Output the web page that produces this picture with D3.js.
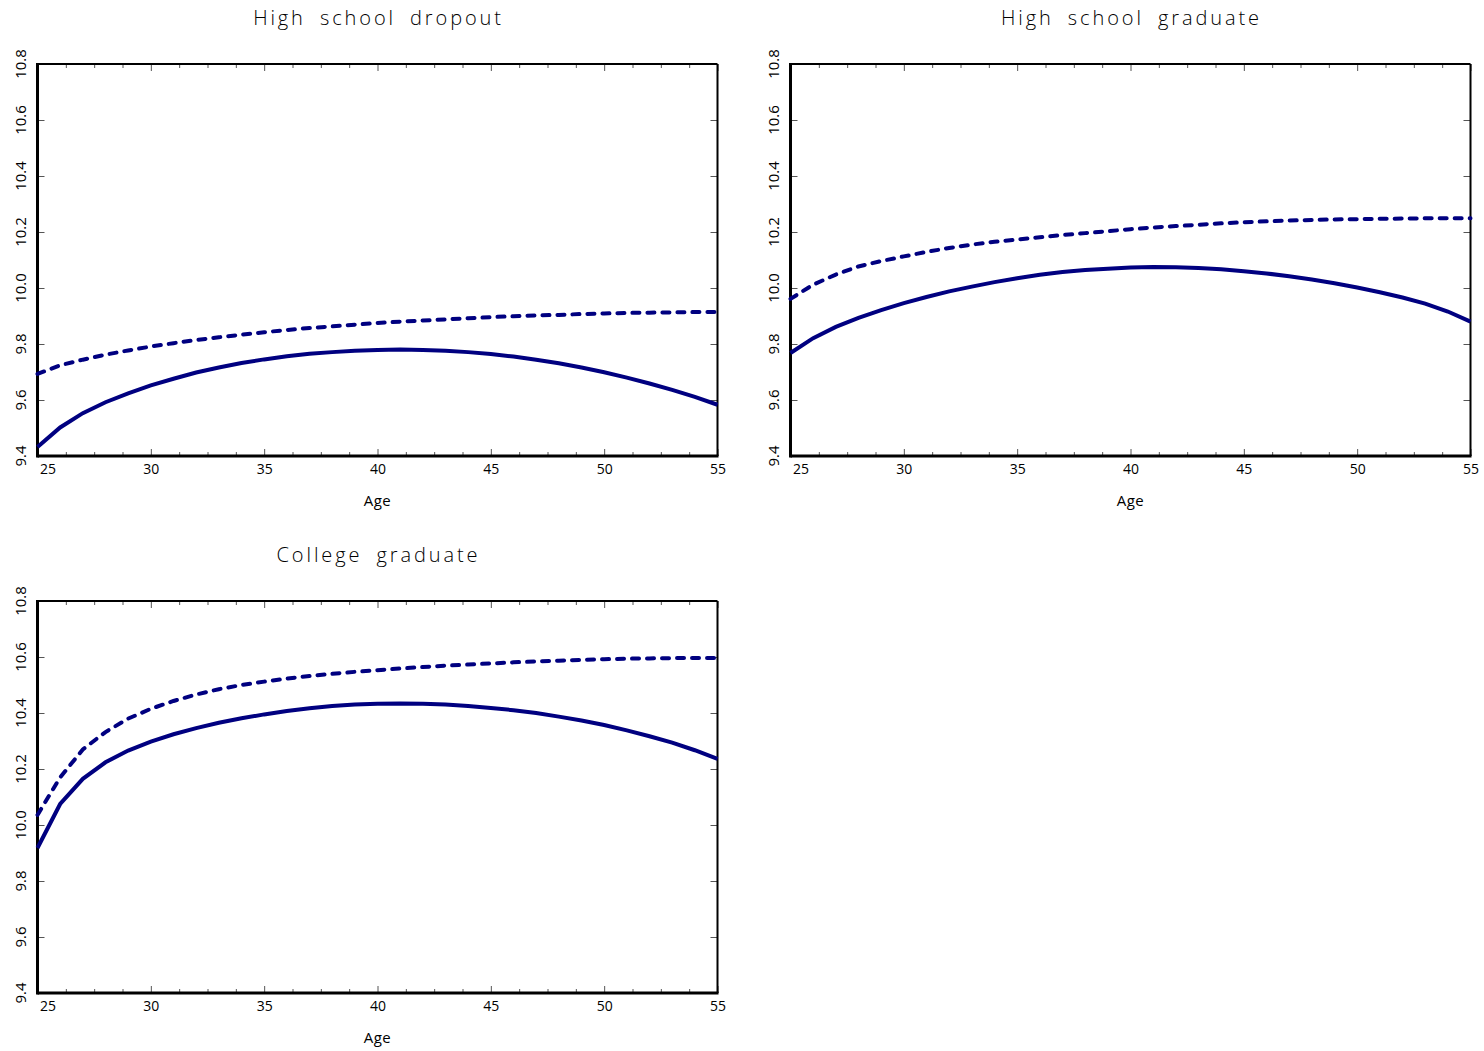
<!DOCTYPE html>
<html>
<head>
<meta charset="utf-8">
<script src="https://cdn.jsdelivr.net/npm/d3@7.9.0/dist/d3.min.js"></script>
<style>
  body { margin: 0; background: #fff; }
  svg text { font-family: "Open Sans", "DejaVu Sans", sans-serif; font-weight: 400; fill: #000; }
  .tick line { stroke: #555; }
</style>
</head>
<body>
<svg id="chart" width="1484" height="1051"></svg>
<script>
// ages 25..55
const ages = d3.range(25, 56);
const xTicks = [25, 30, 35, 40, 45, 50, 55];
const yTicks = [9.4, 9.6, 9.8, 10.0, 10.2, 10.4, 10.6, 10.8];

const titles = ['High school dropout', 'High school graduate', 'College graduate'];

const dropoutSolid = [9.432, 9.502, 9.553, 9.592, 9.624, 9.652, 9.676, 9.698, 9.716, 9.732, 9.745,
  9.756, 9.765, 9.771, 9.776, 9.779, 9.780, 9.779, 9.776, 9.771, 9.764,
  9.755, 9.744, 9.731, 9.716, 9.699, 9.680, 9.659, 9.636, 9.611, 9.583];
const dropoutDashed = [9.693, 9.724, 9.744, 9.762, 9.777, 9.791, 9.803, 9.814, 9.824, 9.833, 9.842,
  9.850, 9.857, 9.863, 9.869, 9.875, 9.880, 9.884, 9.888, 9.892, 9.896,
  9.899, 9.902, 9.904, 9.907, 9.909, 9.911, 9.912, 9.913, 9.914, 9.914];

const hsgradSolid = [9.768, 9.821, 9.861, 9.893, 9.921, 9.946, 9.968, 9.988, 10.005, 10.021, 10.035,
  10.047, 10.057, 10.064, 10.069, 10.073, 10.075, 10.074, 10.071, 10.067, 10.060,
  10.052, 10.042, 10.030, 10.017, 10.002, 9.985, 9.966, 9.944, 9.916, 9.880];
const hsgradDashed = [9.961, 10.012, 10.048, 10.077, 10.096, 10.113, 10.129, 10.143, 10.155, 10.165, 10.173,
  10.181, 10.189, 10.196, 10.203, 10.210, 10.216, 10.221, 10.226, 10.231, 10.235,
  10.238, 10.241, 10.243, 10.245, 10.246, 10.247, 10.248, 10.249, 10.249, 10.249];

const collegeSolid = [9.918, 10.075, 10.165, 10.224, 10.266, 10.298, 10.324, 10.346, 10.365, 10.381, 10.395,
  10.407, 10.417, 10.425, 10.430, 10.433, 10.434, 10.433, 10.430, 10.425, 10.418,
  10.410, 10.400, 10.387, 10.373, 10.357, 10.338, 10.317, 10.294, 10.267, 10.236];
const collegeDashed = [10.036, 10.170, 10.270, 10.332, 10.380, 10.415, 10.443, 10.466, 10.485, 10.500, 10.512,
  10.523, 10.532, 10.540, 10.547, 10.553, 10.559, 10.564, 10.569, 10.573, 10.577,
  10.581, 10.584, 10.587, 10.590, 10.592, 10.594, 10.595, 10.596, 10.596, 10.596];

const panels = [
  { title: titles[0], solid: dropoutSolid, dashed: dropoutDashed, left: 37.5, top: 64 },
  { title: titles[1], solid: hsgradSolid, dashed: hsgradDashed, left: 790.5, top: 64 },
  { title: titles[2], solid: collegeSolid, dashed: collegeDashed, left: 37.5, top: 601 },
];

const W = 680, H = 392;
const navy = '#000080';
const minorTicks = d3.range(25, 55.01, 1.25).filter(v => !xTicks.includes(v));

const svg = d3.select('#chart');

panels.forEach(p => {
  const x = d3.scaleLinear().domain([25, 55]).range([p.left, p.left + W]);
  const y = d3.scaleLinear().domain([9.4, 10.8]).range([p.top + H, p.top]);
  const g = svg.append('g');

  // title
  g.append('text')
    .attr('x', p.left + W / 2 + 1).attr('y', p.top - 39)
    .attr('text-anchor', 'middle')
    .style('font-size', '20px').style('font-weight', 300)
    .style('letter-spacing', '2.9px').style('word-spacing', '6px')
    .text(p.title);

  // inward ticks
  const bottom = g.append('g').attr('transform', `translate(0,${p.top + H})`)
    .call(d3.axisBottom(x).tickValues(xTicks).tickSize(-7).tickPadding(8).tickFormat(d3.format('d')));
  bottom.selectAll('text').style('font-size', '14px').style('fill', '#000');
  bottom.select('.tick text').attr('text-anchor', 'start').attr('dx', 2);
  g.append('g').attr('transform', `translate(0,${p.top + H})`)
    .call(d3.axisBottom(x).tickValues(minorTicks).tickSize(-4).tickFormat(''));
  g.append('g').attr('transform', `translate(0,${p.top})`)
    .call(d3.axisTop(x).tickValues(xTicks).tickSize(-7).tickFormat(''));
  g.append('g').attr('transform', `translate(0,${p.top})`)
    .call(d3.axisTop(x).tickValues(minorTicks).tickSize(-4).tickFormat(''));
  g.append('g').attr('transform', `translate(${p.left},0)`)
    .call(d3.axisLeft(y).tickValues(yTicks).tickSize(-7).tickFormat(''));
  g.append('g').attr('transform', `translate(${p.left + W},0)`)
    .call(d3.axisRight(y).tickValues(yTicks).tickSize(-7).tickFormat(''));
  g.selectAll('.domain').remove();

  // rotated y labels
  g.selectAll('.ylab').data(yTicks).join('text')
    .attr('class', 'ylab')
    .attr('transform', d => `translate(${p.left - 12},${y(d)}) rotate(-90)`)
    .attr('text-anchor', 'middle')
    .style('font-size', '15px')
    .text(d => d3.format('.1f')(d));

  // frame
  g.append('line').attr('x1', p.left).attr('x2', p.left + W).attr('y1', p.top).attr('y2', p.top)
    .attr('stroke', '#000').attr('stroke-width', 2);
  g.append('line').attr('x1', p.left + W).attr('x2', p.left + W).attr('y1', p.top).attr('y2', p.top + H)
    .attr('stroke', '#000').attr('stroke-width', 2);
  g.append('line').attr('x1', p.left).attr('x2', p.left).attr('y1', p.top - 1).attr('y2', p.top + H + 1.5)
    .attr('stroke', '#000').attr('stroke-width', 3);
  g.append('line').attr('x1', p.left).attr('x2', p.left + W + 1).attr('y1', p.top + H).attr('y2', p.top + H)
    .attr('stroke', '#000').attr('stroke-width', 3);

  // x label
  g.append('text')
    .attr('x', p.left + W / 2).attr('y', p.top + H + 50)
    .attr('text-anchor', 'middle')
    .style('font-size', '15px').style('letter-spacing', '0.5px')
    .text('Age');

  const line = d3.line().x((d, i) => x(ages[i])).y(d => y(d));
  g.append('path').datum(p.dashed).attr('d', line)
    .attr('fill', 'none').attr('stroke', navy).attr('stroke-width', 4)
    .attr('stroke-linecap', 'round').attr('stroke-dasharray', '7,8');
  g.append('path').datum(p.solid).attr('d', line)
    .attr('fill', 'none').attr('stroke', navy).attr('stroke-width', 4);
});
</script>
</body>
</html>
